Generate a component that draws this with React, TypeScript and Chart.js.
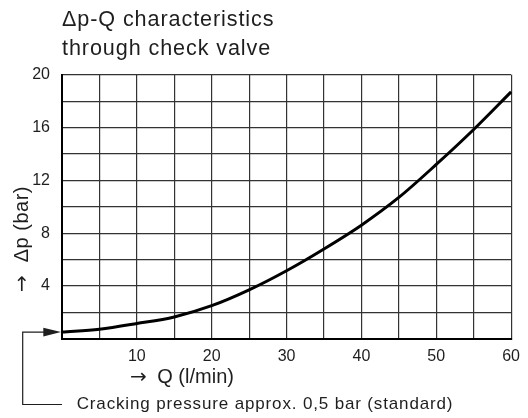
import { useEffect, useRef } from 'react';
import { Chart, registerables } from 'chart.js';

Chart.register(...registerables);

// Flow rate Q (l/min)
const flowQ = [0, 5, 10, 15, 20, 25, 30, 35, 40, 45, 50, 55, 60];
// Pressure drop Δp (bar)
const pressureDp = [0.5, 0.72, 1.15, 1.65, 2.5, 3.7, 5.15, 6.8, 8.6, 10.7, 13.2, 15.85, 18.7];

const xTickLabels = [10, 20, 30, 40, 50, 60];
const yTickLabels = [4, 8, 12, 16, 20];

const titleLines = ['Δp-Q characteristics', 'through check valve'];
const arrowGlyph = '→';
const xAxisTitle = 'Q (l/min)';
const yAxisTitle = 'Δp (bar)';
const crackingNote = 'Cracking pressure approx. 0,5 bar (standard)';
const crackingPressure = 0.5;

const FONT = '"Liberation Sans", Arial, Helvetica, sans-serif';
const ARROW_FONT = '"DejaVu Sans", sans-serif';
const TEXT = '#1e1e1e';

function drawArrowLabel(
  ctx: CanvasRenderingContext2D,
  label: string,
  x: number,
  y: number,
  size: number,
  spacing: string,
  gap: number
) {
  (ctx as any).letterSpacing = '0px';
  ctx.font = `${size}px ${ARROW_FONT}`;
  ctx.fillText(arrowGlyph, x, y);
  const aw = ctx.measureText(arrowGlyph).width;
  ctx.font = `${size}px ${FONT}`;
  (ctx as any).letterSpacing = spacing;
  ctx.fillText(label, x + aw + gap, y);
}

const annotations = {
  id: 'annotations',
  afterDraw(chart: any) {
    const ctx = chart.ctx as CanvasRenderingContext2D;
    const a = chart.chartArea;
    const yScale = chart.scales.y;
    ctx.save();
    ctx.fillStyle = TEXT;
    ctx.strokeStyle = TEXT;
    ctx.textAlign = 'left';
    ctx.textBaseline = 'alphabetic';

    // title
    ctx.font = `21.6px ${FONT}`;
    (ctx as any).letterSpacing = '0.9px';
    ctx.fillText(titleLines[0], a.left, a.top - 48.7);
    ctx.fillText(titleLines[1], a.left, a.top - 19.5);

    // x axis title
    drawArrowLabel(ctx, xAxisTitle, a.left + 68, a.bottom + 44.6, 20, '0px', 10.5);

    // y axis title (rotated)
    ctx.save();
    ctx.translate(a.left - 34.5, 235);
    ctx.rotate(-Math.PI / 2);
    drawArrowLabel(ctx, yAxisTitle, -57, 0, 20, '0.5px', 13);
    ctx.restore();

    // cracking pressure callout
    const yPix = yScale.getPixelForValue(crackingPressure);
    ctx.lineWidth = 1.2;
    ctx.beginPath();
    ctx.moveTo(a.left, 404.5);
    ctx.lineTo(22.7, 404.5);
    ctx.lineTo(22.7, yPix);
    ctx.lineTo(45, yPix);
    ctx.stroke();
    ctx.beginPath();
    ctx.moveTo(a.left - 1, yPix);
    ctx.lineTo(43.3, yPix - 4.3);
    ctx.lineTo(43.3, yPix + 4.3);
    ctx.closePath();
    ctx.fill();

    ctx.font = `17px ${FONT}`;
    (ctx as any).letterSpacing = '0.85px';
    ctx.fillText(crackingNote, a.left + 14.7, 408.7);
    ctx.restore();
  },
};

export default function App() {
  const ref = useRef<HTMLCanvasElement>(null);

  useEffect(() => {
    if (!ref.current) return;
    const chart = new Chart(ref.current, {
      type: 'line',
      data: {
        datasets: [
          {
            data: flowQ.map((q, i) => ({ x: q, y: pressureDp[i] })),
            borderColor: '#000',
            borderWidth: 3,
            pointRadius: 0,
            fill: false,
            cubicInterpolationMode: 'monotone',
            clip: false as any,
          },
        ],
      },
      options: {
        responsive: false,
        animation: false,
        devicePixelRatio: 1,
        layout: { padding: { top: 74.7, right: 11.3, left: 0, bottom: 0 } },
        plugins: { legend: { display: false }, tooltip: { enabled: false } },
        scales: {
          x: {
            type: 'linear',
            min: 0,
            max: 60,
            afterFit: (s: any) => {
              s.height = 79.3;
            },
            ticks: {
              stepSize: 5,
              autoSkip: false,
              maxRotation: 0,
              padding: 8,
              color: TEXT,
              font: { size: 16, family: FONT },
              callback: (v: any) => (xTickLabels.includes(Number(v)) ? String(v) : ''),
            },
            grid: { color: '#333', lineWidth: 1.2, drawTicks: false },
            border: { color: '#000', width: 2 },
          },
          y: {
            type: 'linear',
            min: 0,
            max: 20,
            afterFit: (s: any) => {
              s.width = 62;
            },
            ticks: {
              stepSize: 2,
              autoSkip: false,
              padding: 12,
              color: TEXT,
              font: { size: 16, family: FONT },
              callback: (v: any) => (yTickLabels.includes(Number(v)) ? String(v) : ''),
            },
            grid: { color: '#333', lineWidth: 1.2, drawTicks: false },
            border: { color: '#000', width: 2 },
          },
        },
      },
      plugins: [annotations],
    });
    return () => chart.destroy();
  }, []);

  return (
    <div style={{ position: 'fixed', left: 0, top: 0, width: 528, height: 418, background: '#fff' }}>
      <canvas ref={ref} width={528} height={418} style={{ display: 'block' }} />
    </div>
  );
}
